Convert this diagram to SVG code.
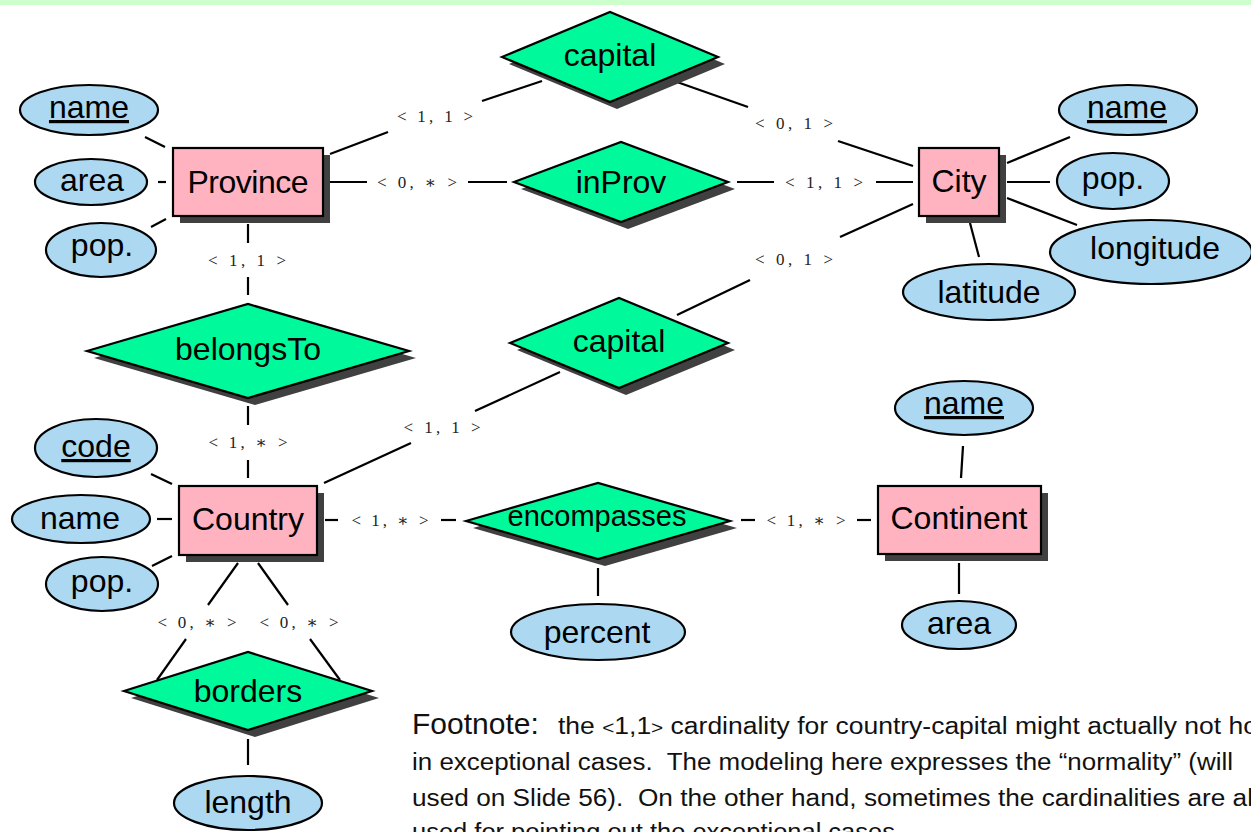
<svg xmlns="http://www.w3.org/2000/svg" width="1251" height="832" viewBox="0 0 1251 832">
<style>
.ent{fill:#ffb3c1;stroke:#000;stroke-width:2.2}
.rel{fill:#00f99b;stroke:#000;stroke-width:2.2}
.att{fill:#acd9f1;stroke:#000;stroke-width:2.2}
.sh{fill:#404040}
.t{font-family:"Liberation Sans",Arial,sans-serif;font-size:32px;fill:#000;text-anchor:middle}
.u{text-decoration:underline}
.card{font-family:"Liberation Serif","DejaVu Serif",serif;font-size:17px;fill:#222;text-anchor:middle}
.fn{font-family:"Liberation Sans",Arial,sans-serif;fill:#111}
#conn line{stroke:#000;stroke-width:2.2}
</style>
<rect x="0" y="0" width="1251" height="5" fill="#ccffcc"/>
<rect x="0" y="5" width="1251" height="827" fill="#fff"/>

<g id="conn">
<line x1="145" y1="137" x2="165" y2="147"/>
<line x1="158" y1="182" x2="166" y2="182"/>
<line x1="151" y1="227" x2="166" y2="219"/>
<line x1="330" y1="154" x2="388" y2="132"/>
<line x1="482" y1="101" x2="542" y2="81"/>
<line x1="677" y1="82" x2="748" y2="107"/>
<line x1="838" y1="141" x2="913" y2="166"/>
<line x1="330" y1="182" x2="367" y2="182"/>
<line x1="468" y1="182" x2="507" y2="182"/>
<line x1="737" y1="182" x2="774" y2="182"/>
<line x1="876" y1="182" x2="913" y2="182"/>
<line x1="1007" y1="163" x2="1070" y2="137"/>
<line x1="1007" y1="182" x2="1050" y2="182"/>
<line x1="1007" y1="198" x2="1077" y2="225"/>
<line x1="970" y1="223" x2="979" y2="257"/>
<line x1="248" y1="224" x2="248" y2="243"/>
<line x1="248" y1="277" x2="248" y2="295"/>
<line x1="248" y1="406" x2="248" y2="425"/>
<line x1="248" y1="460" x2="248" y2="478"/>
<line x1="151" y1="474" x2="172" y2="484"/>
<line x1="157" y1="519" x2="172" y2="519"/>
<line x1="152" y1="566" x2="172" y2="556"/>
<line x1="324" y1="483" x2="411" y2="443"/>
<line x1="475" y1="411" x2="560" y2="372"/>
<line x1="677" y1="315" x2="750" y2="280"/>
<line x1="840" y1="237" x2="913" y2="204"/>
<line x1="325" y1="520" x2="338" y2="520"/>
<line x1="441" y1="520" x2="456" y2="520"/>
<line x1="741" y1="520" x2="755" y2="520"/>
<line x1="857" y1="520" x2="871" y2="520"/>
<line x1="598" y1="568" x2="598" y2="596"/>
<line x1="963" y1="446" x2="961" y2="478"/>
<line x1="959" y1="563" x2="959" y2="594"/>
<line x1="238" y1="563" x2="208" y2="605"/>
<line x1="258" y1="563" x2="288" y2="605"/>
<line x1="186" y1="639" x2="157" y2="680"/>
<line x1="310" y1="639" x2="340" y2="680"/>
<line x1="248" y1="739" x2="248" y2="765"/>
<text class="card" x="435" y="122" textLength="76" lengthAdjust="spacing">&lt; 1, 1 &gt;</text>
<text class="card" x="794" y="129" textLength="78" lengthAdjust="spacing">&lt; 0, 1 &gt;</text>
<text class="card" x="417" y="188" textLength="80" lengthAdjust="spacing">&lt; 0, ∗ &gt;</text>
<text class="card" x="824" y="188" textLength="78" lengthAdjust="spacing">&lt; 1, 1 &gt;</text>
<text class="card" x="794" y="265" textLength="78" lengthAdjust="spacing">&lt; 0, 1 &gt;</text>
<text class="card" x="247" y="266" textLength="78" lengthAdjust="spacing">&lt; 1, 1 &gt;</text>
<text class="card" x="248" y="448" textLength="79" lengthAdjust="spacing">&lt; 1, ∗ &gt;</text>
<text class="card" x="442" y="433" textLength="77" lengthAdjust="spacing">&lt; 1, 1 &gt;</text>
<text class="card" x="390" y="526" textLength="77" lengthAdjust="spacing">&lt; 1, ∗ &gt;</text>
<text class="card" x="806" y="526" textLength="79" lengthAdjust="spacing">&lt; 1, ∗ &gt;</text>
<text class="card" x="197" y="628" textLength="79" lengthAdjust="spacing">&lt; 0, ∗ &gt;</text>
<text class="card" x="299" y="628" textLength="79" lengthAdjust="spacing">&lt; 0, ∗ &gt;</text>
</g>

<g id="Province">
<rect class="sh" x="180" y="155" width="150" height="68"/>
<rect class="ent" x="173" y="148" width="150" height="68"/>
<text class="t" x="248" y="193" textLength="121">Province</text>
</g>
<g id="City">
<rect class="sh" x="926" y="155" width="80" height="68"/>
<rect class="ent" x="919" y="148" width="80" height="68"/>
<text class="t" x="959" y="192">City</text>
</g>
<g id="Country">
<rect class="sh" x="186" y="493" width="138" height="69"/>
<rect class="ent" x="179" y="486" width="138" height="69"/>
<text class="t" x="248" y="530">Country</text>
</g>
<g id="Continent">
<rect class="sh" x="885" y="493" width="163" height="68"/>
<rect class="ent" x="878" y="486" width="163" height="68"/>
<text class="t" x="959" y="529">Continent</text>
</g>

<g id="capital1">
<polygon class="sh" points="509,64 617,19 725,64 617,109"/>
<polygon class="rel" points="502,57 610,12 718,57 610,102"/>
<text class="t" x="610" y="66">capital</text>
</g>
<g id="inProv">
<polygon class="sh" points="521,189 628,149 735,189 628,229"/>
<polygon class="rel" points="514,182 621,142 728,182 621,222"/>
<text class="t" x="621" y="193">inProv</text>
</g>
<g id="belongsTo">
<polygon class="sh" points="94,358 255,311 416,358 255,405"/>
<polygon class="rel" points="87,351 248,304 409,351 248,398"/>
<text class="t" x="248" y="360">belongsTo</text>
</g>
<g id="capital2">
<polygon class="sh" points="517,350 626,305 735,350 626,395"/>
<polygon class="rel" points="510,343 619,298 728,343 619,388"/>
<text class="t" x="619" y="352">capital</text>
</g>
<g id="encompasses">
<polygon class="sh" points="473,528 605,490 737,528 605,566"/>
<polygon class="rel" points="466,521 598,483 730,521 598,559"/>
<text class="t" x="597" y="526" style="font-size:29px">encompasses</text>
</g>
<g id="borders">
<polygon class="sh" points="131,698 255,659 379,698 255,737"/>
<polygon class="rel" points="124,691 248,652 372,691 248,730"/>
<text class="t" x="248" y="702">borders</text>
</g>

<g id="prov-name"><ellipse class="att" cx="89" cy="110" rx="69" ry="25"/><text class="t u" x="89" y="118">name</text></g>
<g id="prov-area"><ellipse class="att" cx="91" cy="182" rx="56" ry="23"/><text class="t" x="92" y="191">area</text></g>
<g id="prov-pop"><ellipse class="att" cx="101" cy="250" rx="55" ry="27"/><text class="t" x="102" y="256">pop.</text></g>
<g id="city-name"><ellipse class="att" cx="1128" cy="110" rx="69" ry="25"/><text class="t u" x="1127" y="118">name</text></g>
<g id="city-pop"><ellipse class="att" cx="1113" cy="181" rx="56" ry="28"/><text class="t" x="1113" y="189">pop.</text></g>
<g id="city-longitude"><ellipse class="att" cx="1151" cy="252" rx="101" ry="32"/><text class="t" x="1155" y="259">longitude</text></g>
<g id="city-latitude"><ellipse class="att" cx="989" cy="292" rx="86" ry="28"/><text class="t" x="989" y="303">latitude</text></g>
<g id="country-code"><ellipse class="att" cx="96" cy="448" rx="61" ry="29"/><text class="t u" x="96" y="457">code</text></g>
<g id="country-name"><ellipse class="att" cx="81" cy="519" rx="69" ry="24"/><text class="t" x="80" y="529">name</text></g>
<g id="country-pop"><ellipse class="att" cx="102" cy="584" rx="56" ry="27"/><text class="t" x="102" y="592">pop.</text></g>
<g id="cont-name"><ellipse class="att" cx="964" cy="408" rx="69" ry="27"/><text class="t u" x="964" y="414">name</text></g>
<g id="cont-area"><ellipse class="att" cx="959" cy="625" rx="57" ry="24"/><text class="t" x="959" y="634">area</text></g>
<g id="percent"><ellipse class="att" cx="598" cy="632" rx="87" ry="28"/><text class="t" x="597" y="643">percent</text></g>
<g id="length"><ellipse class="att" cx="248" cy="803" rx="74" ry="27"/><text class="t" x="248" y="813">length</text></g>

<g id="footnote">
<text class="fn" x="412" y="734" font-size="30">Footnote:</text>
<text class="fn" x="558" y="734" font-size="23" textLength="700" lengthAdjust="spacingAndGlyphs">the <tspan font-size="18">&lt;</tspan>1,1<tspan font-size="18">&gt;</tspan> cardinality for country-capital might actually not ho</text>
<text class="fn" x="412" y="770" font-size="23" textLength="821" lengthAdjust="spacingAndGlyphs" xml:space="preserve">in exceptional cases.  The modeling here expresses the “normality” (will</text>
<text class="fn" x="412" y="806" font-size="23" textLength="841" lengthAdjust="spacingAndGlyphs" xml:space="preserve">used on Slide 56).  On the other hand, sometimes the cardinalities are al</text>
<text class="fn" x="412" y="840" font-size="23" textLength="490" lengthAdjust="spacingAndGlyphs">used for pointing out the exceptional cases.</text>
</g>
</svg>
